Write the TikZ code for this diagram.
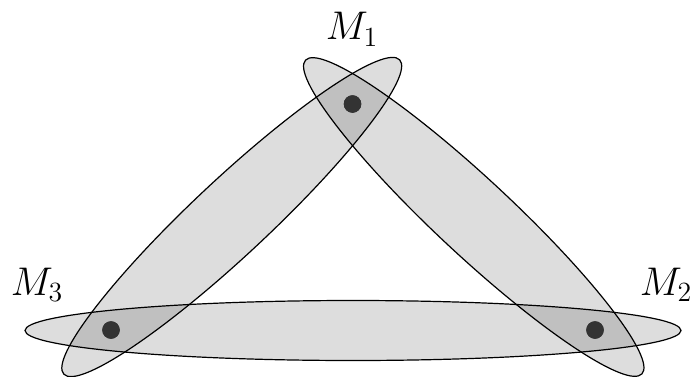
\documentclass[tikz,border=0pt]{standalone}
\usepackage{graphicx}
\newcommand{\biglab}[1]{\scalebox{1.93}{\huge$#1$}}
\begin{document}
\begin{tikzpicture}[x=1pt,y=1pt,
  blob/.style={fill=black,fill opacity=0.135},
  rim/.style={draw=black,line width=1.2pt},
  dotnode/.style={circle,fill=black!80,inner sep=0pt,minimum size=17.5pt},
  lab/.style={anchor=base,inner sep=0pt}]
\useasboundingbox (0,0) rectangle (698,376);
% points
\node[dotnode] (m1) at (352.5,272) {};
\node[dotnode] (m2) at (595,46) {};
\node[dotnode] (m3) at (111,46) {};
% fills
\fill[blob] (353,45.5) ellipse [x radius=328, y radius=30];
\fill[blob,rotate around={43.1:(231.75,159)}] (231.75,159) ellipse [x radius=230, y radius=38];
\fill[blob,rotate around={-43.0:(473.75,159)}] (473.75,159) ellipse [x radius=230, y radius=38];
% outlines
\draw[rim] (353,45.5) ellipse [x radius=328, y radius=30];
\draw[rim,rotate around={43.1:(231.75,159)}] (231.75,159) ellipse [x radius=230, y radius=38];
\draw[rim,rotate around={-43.0:(473.75,159)}] (473.75,159) ellipse [x radius=230, y radius=38];
% dots on top
\node[dotnode] at (m1) {};
\node[dotnode] at (m2) {};
\node[dotnode] at (m3) {};
% labels
\node[lab] (l1) at (352,336) {\biglab{M_1}};
\node[lab] (l2) at (666,81) {\biglab{M_2}};
\node[lab] (l3) at (37,81) {\biglab{M_3}};
\end{tikzpicture}
\end{document}
